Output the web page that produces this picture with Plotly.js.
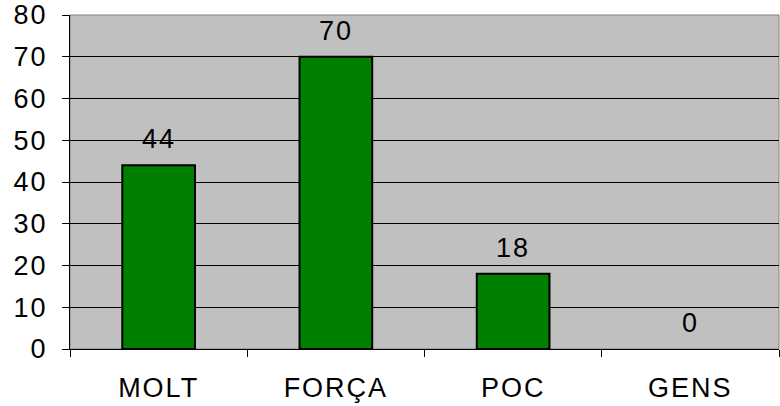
<!DOCTYPE html>
<html>
<head>
<meta charset="utf-8">
<script src="https://cdn.plot.ly/plotly-3.0.1.min.js"></script>
<style>
html,body{margin:0;padding:0;background:#fff;}
#chart{width:780px;height:406px;}
#chart .xtick text, #chart .ytick text, #chart .annotation-text{letter-spacing:2px;}
</style>
</head>
<body>
<div id="chart"></div>
<script>
const categories = ["MOLT", "FORÇA", "POC", "GENS"];
const values = [44, 70, 18, 0];
const yTicks = [0, 10, 20, 30, 40, 50, 60, 70, 80];

const font = {family: "Liberation Sans, Arial, sans-serif", size: 27, color: "#000"};

const trace = {
  type: "bar",
  x: categories,
  y: values,
  marker: {color: "#008000", line: {color: "#000", width: values.map(v => v ? 2 : 0)}},
  hoverinfo: "none"
};

const annotations = categories.map((c, i) => ({
  x: c, y: values[i], xref: "x", yref: "y",
  text: String(values[i]), showarrow: false,
  yshift: 26, font: font
}));

const layout = {
  width: 780, height: 406,
  margin: {l: 70, r: 1, t: 15, b: 57},
  paper_bgcolor: "#fff",
  plot_bgcolor: "#c0c0c0",
  bargap: 0.59,
  showlegend: false,
  font: font,
  xaxis: {
    type: "category",
    tickson: "boundaries",
    ticks: "outside", ticklen: 7, tickcolor: "#000", tickwidth: 1,
    showline: true, linecolor: "#000", linewidth: 1,
    showgrid: false,
    ticklabelstandoff: 15,
    tickfont: font, fixedrange: true
  },
  yaxis: {
    range: [0, 80],
    tickvals: yTicks,
    ticks: "outside", ticklen: 7, tickcolor: "#000", tickwidth: 1,
    showline: true, linecolor: "#000", linewidth: 1,
    showgrid: true, gridcolor: "#000", gridwidth: 1,
    zeroline: false,
    ticklabelstandoff: 9,
    tickfont: font, fixedrange: true
  },
  shapes: [{
    type: "rect", xref: "paper", yref: "paper", x0: 0, x1: 1, y0: 0, y1: 1,
    line: {color: "#808080", width: 1}, layer: "below"
  }],
  annotations: annotations
};

Plotly.newPlot("chart", [trace], layout, {displayModeBar: false, staticPlot: true});
</script>
</body>
</html>
